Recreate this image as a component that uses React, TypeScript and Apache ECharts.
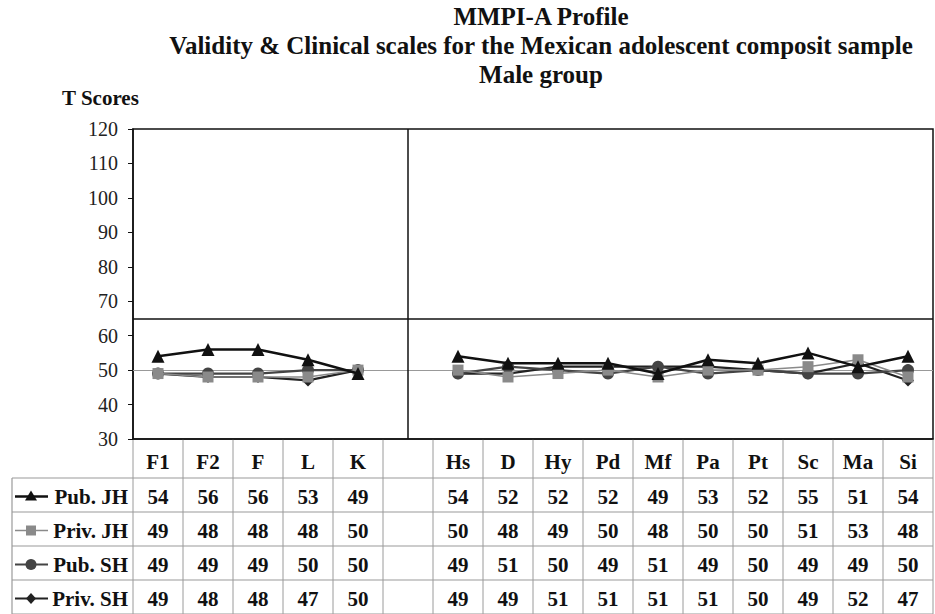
import React, { useEffect, useRef } from "react";
import * as echarts from "echarts";

const categories = ["F1", "F2", "F", "L", "K", "", "Hs", "D", "Hy", "Pd", "Mf", "Pa", "Pt", "Sc", "Ma", "Si"];
const pubJH = [54, 56, 56, 53, 49, null, 54, 52, 52, 52, 49, 53, 52, 55, 51, 54];
const privJH = [49, 48, 48, 48, 50, null, 50, 48, 49, 50, 48, 50, 50, 51, 53, 48];
const pubSH = [49, 49, 49, 50, 50, null, 49, 51, 50, 49, 51, 49, 50, 49, 49, 50];
const privSH = [49, 48, 48, 47, 50, null, 49, 49, 51, 51, 51, 51, 50, 49, 52, 47];
const seriesNames = ["Pub. JH", "Priv. JH", "Pub. SH", "Priv. SH"];
const cutoffLine = 65;
const meanLine = 50;
const separatorIndex = 5;

const SERIF = "Liberation Serif";

export default function App() {
  const ref = useRef<HTMLDivElement>(null);
  useEffect(() => {
    document.body.style.margin = "0";
    const chart = echarts.init(ref.current!, null, { renderer: "svg" });
    const styles = [
      { color: "#111", width: 2.5, symbol: "triangle", size: 13 },
      { color: "#8a8a8a", width: 1.5, symbol: "rect", size: 11 },
      { color: "#444", width: 2.2, symbol: "circle", size: 12 },
      { color: "#222", width: 2.2, symbol: "diamond", size: 12 },
    ];
    const datas = [pubJH, privJH, pubSH, privSH];
    const series: any[] = datas.map((d, i) => ({
      name: seriesNames[i],
      type: "line",
      data: d,
      connectNulls: false,
      symbol: styles[i].symbol,
      symbolSize: styles[i].size,
      lineStyle: { color: styles[i].color, width: styles[i].width },
      itemStyle: { color: styles[i].color },
      z: 10 - i,
    }));
    series[0].markLine = {
      silent: true,
      symbol: "none",
      label: { show: false },
      data: [
        { yAxis: cutoffLine, lineStyle: { color: "#111", width: 1.5, type: "solid" } },
        { yAxis: meanLine, lineStyle: { color: "#999", width: 1.2, type: "solid" } },
        { xAxis: separatorIndex, lineStyle: { color: "#111", width: 1.5, type: "solid" } },
      ],
    };
    chart.setOption({
      animation: false,
      grid: { left: 133, top: 129, width: 800, height: 310, show: true, borderColor: "#111", borderWidth: 1.5, backgroundColor: "transparent" },
      xAxis: {
        type: "category",
        data: categories,
        boundaryGap: true,
        axisLine: { lineStyle: { color: "#111", width: 1.5 } },
        axisTick: { show: false },
        axisLabel: { fontFamily: SERIF, fontWeight: "bold", fontSize: 21, color: "#111", margin: 12 },
      },
      yAxis: {
        type: "value",
        min: 30,
        max: 120,
        interval: 10,
        axisLine: { show: true, lineStyle: { color: "#111", width: 1.5 } },
        axisTick: { show: true, length: 5, lineStyle: { color: "#111" } },
        splitLine: { show: false },
        axisLabel: { fontFamily: SERIF, fontSize: 20, color: "#222", margin: 15 },
      },
      series,
    });

    const colCenter = (i: number) => chart.convertToPixel({ xAxisIndex: 0 }, i) as number;
    const yBottom = chart.convertToPixel({ yAxisIndex: 0 }, 30) as number;
    const colW = colCenter(1) - colCenter(0);
    const leftEdge = colCenter(0) - colW / 2;
    const rightEdge = colCenter(categories.length - 1) + colW / 2;
    const headerBottom = yBottom + 39;
    const rowH = 34;
    const tableLeft = 12;
    const gray = "#9a9a9a";
    const g: any[] = [];
    for (let i = 0; i <= categories.length; i++) {
      const x = leftEdge + i * colW;
      g.push({ type: "line", shape: { x1: x, y1: yBottom, x2: x, y2: headerBottom }, style: { stroke: gray, lineWidth: 1 } });
    }
    const tableBottom = headerBottom + rowH * 4;
    for (let r = 0; r <= 4; r++) {
      const y = headerBottom + r * rowH;
      g.push({ type: "line", shape: { x1: tableLeft, y1: y, x2: rightEdge, y2: y }, style: { stroke: gray, lineWidth: 1.2 } });
    }
    g.push({ type: "line", shape: { x1: tableLeft, y1: headerBottom, x2: tableLeft, y2: tableBottom }, style: { stroke: gray, lineWidth: 1.2 } });
    for (let i = 0; i <= categories.length; i++) {
      const x = leftEdge + i * colW;
      g.push({ type: "line", shape: { x1: x, y1: headerBottom, x2: x, y2: tableBottom }, style: { stroke: gray, lineWidth: 1 } });
    }
    datas.forEach((d, r) => {
      const cy = headerBottom + r * rowH + rowH / 2 + 1.5;
      d.forEach((v, i) => {
        if (v === null) return;
        g.push({
          type: "text",
          style: { text: String(v), x: colCenter(i), y: cy, textAlign: "center", textVerticalAlign: "middle", fontFamily: SERIF, fontWeight: "bold", fontSize: 21, fill: "#111" },
        });
      });
      const st = styles[r];
      g.push({ type: "line", shape: { x1: 15, y1: cy, x2: 48, y2: cy }, style: { stroke: st.color, lineWidth: st.width } });
      const mx = 31;
      if (st.symbol === "triangle") {
        g.push({ type: "polygon", shape: { points: [[mx, cy - 6], [mx - 6, cy + 4], [mx + 6, cy + 4]] }, style: { fill: st.color } });
      } else if (st.symbol === "rect") {
        g.push({ type: "rect", shape: { x: mx - 5, y: cy - 5, width: 10, height: 10 }, style: { fill: st.color } });
      } else if (st.symbol === "circle") {
        g.push({ type: "circle", shape: { cx: mx, cy, r: 5.5 }, style: { fill: st.color } });
      } else {
        g.push({ type: "polygon", shape: { points: [[mx, cy - 5.5], [mx + 5, cy], [mx, cy + 5.5], [mx - 5, cy]] }, style: { fill: st.color } });
      }
      g.push({
        type: "text",
        style: { text: seriesNames[r], x: leftEdge - 5, y: cy, textAlign: "right", textVerticalAlign: "middle", fontFamily: SERIF, fontWeight: "bold", fontSize: 21, fill: "#111" },
      });
    });
    g.push({
      type: "text",
      style: {
        text: "MMPI-A Profile\nValidity & Clinical scales for the Mexican adolescent composit sample\nMale group",
        x: 541, y: 2, textAlign: "center", fontFamily: SERIF, fontWeight: "bold", fontSize: 25, lineHeight: 29, fill: "#111",
      },
    });
    g.push({ type: "text", style: { text: "T Scores", x: 62, y: 98, textVerticalAlign: "middle", fontFamily: SERIF, fontWeight: "bold", fontSize: 21, fill: "#111" } });
    chart.setOption({ graphic: g });
    return () => chart.dispose();
  }, []);
  return <div ref={ref} style={{ position: "fixed", left: 0, top: 0, width: 935, height: 614, background: "#fff" }} />;
}
